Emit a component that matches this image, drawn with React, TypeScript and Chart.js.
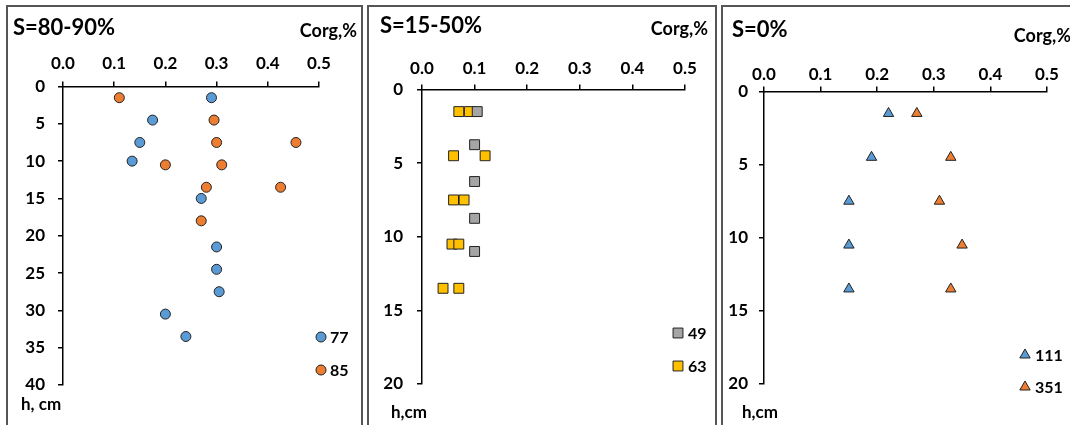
import React, { useEffect, useRef } from "react";
import { Chart, registerables } from "chart.js";

Chart.register(...registerables);

// ---- Data: organic carbon (Corg, %) against depth (h, cm) ----
// S = 80-90 %
const depthA77 = [1.5, 4.5, 7.5, 10, 15, 21.5, 24.5, 27.5, 30.5, 33.5];
const corgA77 = [0.29, 0.175, 0.15, 0.135, 0.27, 0.3, 0.3, 0.305, 0.2, 0.24];
const depthA85 = [1.5, 4.5, 7.5, 7.5, 10.5, 10.5, 13.5, 13.5, 18];
const corgA85 = [0.11, 0.295, 0.3, 0.455, 0.2, 0.31, 0.28, 0.425, 0.27];
// S = 15-50 %
const depthB49 = [1.5, 3.75, 6.25, 8.75, 11];
const corgB49 = [0.105, 0.1, 0.1, 0.1, 0.1];
const depthB63 = [1.5, 1.5, 4.5, 4.5, 7.5, 7.5, 10.5, 10.5, 13.5, 13.5];
const corgB63 = [0.07, 0.09, 0.06, 0.12, 0.06, 0.08, 0.057, 0.07, 0.04, 0.07];
// S = 0 %
const depthC111 = [1.5, 4.5, 7.5, 10.5, 13.5];
const corgC111 = [0.22, 0.19, 0.15, 0.15, 0.15];
const depthC351 = [1.5, 4.5, 7.5, 10.5, 13.5];
const corgC351 = [0.27, 0.33, 0.31, 0.35, 0.33];

const corgMin = 0;
const corgMax = 0.5;
const corgStep = 0.1;
const depthStep = 5;

const BLUE = "#5B9BD5";
const ORANGE = "#ED7D31";
const GREY = "#A5A5A5";
const YELLOW = "#FFC000";
const FONT = "Lato, 'Open Sans', sans-serif";

type Mark = "circle" | "rect" | "triangle";

interface Series {
  label: string;
  x: number[];
  y: number[];
  color: string;
  mark: Mark;
  radius: number;
}

interface PanelSpec {
  left: number; // page x of the framed box
  width: number;
  yMax: number;
  series: Series[];
  area: { left: number; top: number; right: number; bottom: number };
  xTickPad: number;
  yTickPad: number;
  title: string;
  titleAt: [number, number];
  corgAt: [number, number]; // right edge, baseline
  hLabel: string;
  hAt: [number, number];
  legendAt: [number, number][];
  legendTextX: number;
}

const PANEL_TOP = 5;
const PANEL_HEIGHT = 440;
const FRAME = 2;

const panels: PanelSpec[] = [
  {
    left: 6,
    width: 357,
    yMax: 40,
    series: [
      { label: "77", x: corgA77, y: depthA77, color: BLUE, mark: "circle", radius: 5 },
      { label: "85", x: corgA85, y: depthA85, color: ORANGE, mark: "circle", radius: 5 },
    ],
    area: { left: 63, top: 86.5, right: 319, bottom: 385 },
    xTickPad: 8,
    yTickPad: 13,
    title: "S=80-90%",
    titleAt: [13, 35],
    corgAt: [357, 37],
    hLabel: "h, cm",
    hAt: [21, 410],
    legendAt: [
      [321, 337],
      [321, 370],
    ],
    legendTextX: 330,
  },
  {
    left: 367,
    width: 350,
    yMax: 20,
    series: [
      { label: "49", x: corgB49, y: depthB49, color: GREY, mark: "rect", radius: 7 },
      { label: "63", x: corgB63, y: depthB63, color: YELLOW, mark: "rect", radius: 7 },
    ],
    area: { left: 422, top: 89.5, right: 685, bottom: 384 },
    xTickPad: 6,
    yTickPad: 14,
    title: "S=15-50%",
    titleAt: [380, 33],
    corgAt: [708, 35],
    hLabel: "h,cm",
    hAt: [391, 418],
    legendAt: [
      [678, 333],
      [678, 366],
    ],
    legendTextX: 688,
  },
  {
    left: 721,
    width: 360,
    yMax: 20,
    series: [
      { label: "111", x: corgC111, y: depthC111, color: BLUE, mark: "triangle", radius: 6 },
      { label: "351", x: corgC351, y: depthC351, color: ORANGE, mark: "triangle", radius: 6 },
    ],
    area: { left: 764, top: 91.5, right: 1047, bottom: 384 },
    xTickPad: 2,
    yTickPad: 11,
    title: "S=0%",
    titleAt: [732, 37],
    corgAt: [1071, 42],
    hLabel: "h,cm",
    hAt: [742, 418],
    legendAt: [
      [1025, 355],
      [1025, 387],
    ],
    legendTextX: 1035,
  },
];

function drawMark(ctx: CanvasRenderingContext2D, mark: Mark, x: number, y: number, r: number, fill: string) {
  ctx.save();
  ctx.beginPath();
  if (mark === "circle") {
    ctx.arc(x, y, r, 0, Math.PI * 2);
  } else if (mark === "rect") {
    const s = Math.SQRT1_2 * r;
    ctx.rect(x - s, y - s, 2 * s, 2 * s);
  } else {
    const a = (Math.PI * 2) / 3;
    ctx.moveTo(x, y - r);
    ctx.lineTo(x + Math.sin(a) * r, y - Math.cos(a) * r);
    ctx.lineTo(x + Math.sin(2 * a) * r, y - Math.cos(2 * a) * r);
    ctx.closePath();
  }
  ctx.fillStyle = fill;
  ctx.fill();
  ctx.lineWidth = 1;
  ctx.strokeStyle = "#222";
  ctx.stroke();
  ctx.restore();
}

function Panel({ spec }: { spec: PanelSpec }) {
  const ref = useRef<HTMLCanvasElement | null>(null);
  const ox = spec.left + FRAME;
  const oy = PANEL_TOP + FRAME;
  const cw = spec.width - 2 * FRAME;
  const ch = PANEL_HEIGHT - 2 * FRAME;

  useEffect(() => {
    if (!ref.current) return;
    const overlay = {
      id: "panelText",
      afterDraw(chart: Chart) {
        const ctx = chart.ctx;
        ctx.save();
        ctx.fillStyle = "#000";
        ctx.textBaseline = "alphabetic";
        ctx.textAlign = "left";
        ctx.font = `bold 22px ${FONT}`;
        ctx.fillText(spec.title, spec.titleAt[0] - ox, spec.titleAt[1] - oy);
        ctx.font = `bold 18px ${FONT}`;
        ctx.textAlign = "right";
        ctx.fillText("Corg,%", spec.corgAt[0] - ox, spec.corgAt[1] - oy);
        ctx.textAlign = "left";
        ctx.font = `bold 17px ${FONT}`;
        ctx.fillText(spec.hLabel, spec.hAt[0] - ox, spec.hAt[1] - oy);
        spec.series.forEach((s, i) => {
          const [lx, ly] = spec.legendAt[i];
          drawMark(ctx, s.mark, lx - ox, ly - oy, s.radius, s.color);
          ctx.fillStyle = "#000";
          ctx.textBaseline = "middle";
          ctx.font = `bold 16px ${FONT}`;
          ctx.fillText(s.label, spec.legendTextX - ox, ly - oy + 1);
        });
        ctx.restore();
      },
    };

    const axisLine = { display: true, color: "#000", width: 1.5 };
    const tickMarks = {
      display: true,
      drawOnChartArea: false,
      drawTicks: true,
      tickLength: 5,
      color: "#000",
      lineWidth: 1.5,
    };

    const chart = new Chart(ref.current, {
      type: "scatter",
      data: {
        datasets: spec.series.map((s) => ({
          label: s.label,
          data: s.x.map((v, i) => ({ x: v, y: s.y[i] })),
          backgroundColor: s.color,
          borderColor: "#222",
          borderWidth: 1,
          pointStyle: s.mark,
          pointRadius: s.radius,
          pointHoverRadius: s.radius,
          showLine: false,
        })),
      },
      options: {
        responsive: false,
        animation: false,
        events: [],
        devicePixelRatio: 1,
        layout: {
          padding: {
            left: 0,
            top: 0,
            right: cw - (spec.area.right - ox),
            bottom: ch - (spec.area.bottom - oy),
          },
        },
        plugins: {
          legend: { display: false },
          tooltip: { enabled: false },
          title: { display: false },
        },
        scales: {
          x: {
            type: "linear",
            position: "top",
            min: corgMin,
            max: corgMax,
            border: axisLine,
            grid: tickMarks,
            ticks: {
              stepSize: corgStep,
              padding: spec.xTickPad,
              color: "#000",
              maxRotation: 0,
              font: { family: FONT, size: 17, weight: "bold" },
              callback: (v: any) => Number(v).toFixed(1),
            },
            afterFit: (scale: any) => {
              scale.height = spec.area.top - oy;
            },
          },
          y: {
            type: "linear",
            position: "left",
            reverse: true,
            min: 0,
            max: spec.yMax,
            border: axisLine,
            grid: tickMarks,
            ticks: {
              stepSize: depthStep,
              padding: spec.yTickPad,
              color: "#000",
              font: { family: FONT, size: 17, weight: "bold" },
            },
            afterFit: (scale: any) => {
              scale.width = spec.area.left - ox;
            },
          },
        },
      },
      plugins: [overlay],
    } as any);
    return () => chart.destroy();
  }, []);

  return (
    <div
      style={{
        position: "absolute",
        left: spec.left,
        top: PANEL_TOP,
        width: spec.width,
        height: PANEL_HEIGHT,
        border: `${FRAME}px solid #555`,
        boxSizing: "border-box",
        background: "#fff",
      }}
    >
      <canvas ref={ref} width={cw} height={ch} style={{ display: "block", width: cw, height: ch }} />
    </div>
  );
}

export default function App() {
  return (
    <div
      style={{
        position: "fixed",
        left: 0,
        top: 0,
        width: 1070,
        height: 425,
        overflow: "hidden",
        background: "#fff",
      }}
    >
      {panels.map((p, i) => (
        <Panel key={i} spec={p} />
      ))}
    </div>
  );
}
